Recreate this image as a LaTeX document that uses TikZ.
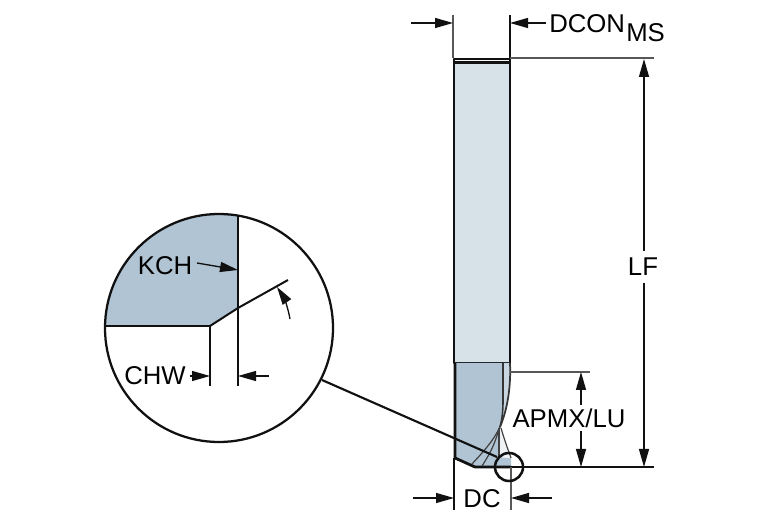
\documentclass[tikz,border=0pt]{standalone}
\usepackage{fontspec}
\setmainfont{Liberation Sans}
\usetikzlibrary{arrows.meta}
\definecolor{toolblue}{HTML}{B0C4D3}
\definecolor{shankblue}{HTML}{D6E2E8}
\definecolor{inkc}{HTML}{111111}
\tikzset{
  x=0.75pt,y=-0.75pt,
  lab/.style={font=\fontsize{19.3pt}{20pt}\selectfont,text=black,inner sep=0pt,anchor=center},
  dim/.style={draw=inkc,line width=1pt},
  ext/.style={draw=inkc!70,line width=1.1pt},
  arr/.style={dim,-{Triangle[length=13.5pt,width=7.5pt]}},
  outline/.style={draw=inkc,line width=2.1pt,line join=round},
  thin edge/.style={draw=inkc!80,line width=0.9pt},
}
\begin{document}
\begin{tikzpicture}
\useasboundingbox (0,0) rectangle (767,523);
% named points
\coordinate (bigC) at (219,328);
\coordinate (smallC) at (509,467);
\coordinate (leadA) at (322,380);
\coordinate (leadB) at (497,457);
% shank
\path[fill=shankblue] (454,59) rectangle (510,363);
\path[fill=white!70!shankblue] (454,59) rectangle (510,62);
\draw[draw=inkc,line width=1.6pt] (454,62.5) -- (510,62.5);
\draw[outline] (454,363) -- (454,59) -- (510,59) -- (510,363) -- cycle;
% flute
\path[fill=toolblue] (455,363) -- (503,363) -- (503,400) .. controls (503,412) and (502,420) .. (500,427) -- (499,457) -- (511,458) -- (511,467) -- (475,467) -- (455,458) -- cycle;
\path[fill=shankblue!40] (500,427) .. controls (505,442) and (509,452) .. (511,458) -- (499,457) -- cycle;
\path[fill=shankblue!60!toolblue] (503,363) -- (510,363) .. controls (511,385) and (508,408) .. (500,427) .. controls (502,420) and (503,412) .. (503,400) -- cycle;
\draw[outline] (455,363) -- (455,458) -- (475,467) -- (511,467);
\draw[draw=inkc!85,line width=1.2pt] (503,363) -- (503,400) .. controls (503,412) and (502,420) .. (500,427);
\draw[draw=inkc!85,line width=1.3pt] (510,363) .. controls (511,385) and (508,408) .. (500,427);
\draw[thin edge] (500,427) .. controls (492,443) and (482,453) .. (472,464);
\draw[thin edge] (499,428) .. controls (495,445) and (489,455) .. (482,466);
\draw[thin edge] (499,428) -- (499,457);
\draw[thin edge] (501,428) .. controls (505,442) and (509,452) .. (511,458);
% top dimension
\coordinate (e1t) at (453,15); \coordinate (e1b) at (453,58);
\coordinate (e2t) at (510,15); \coordinate (e2b) at (510,58);
\draw[ext] (e1t) -- (e1b);
\draw[dim] (e2t) -- (e2b);
\coordinate (a1s) at (411,23); \coordinate (a1e) at (453,23);
\coordinate (a2s) at (546,23); \coordinate (a2e) at (510,23);
\draw[arr] (a1s) -- (a1e);
\draw[arr] (a2s) -- (a2e);
\node[lab,anchor=base west] (dcon) at (549,33) {DCON};
\node[lab,anchor=base west] (ms) at (626,42) {MS};
% LF
\coordinate (t1) at (510,58); \coordinate (t2) at (654,58);
\coordinate (b1) at (475,467); \coordinate (b2) at (654,467);
\draw[ext,line width=1.5pt] (t1) -- (t2);
\draw[draw=inkc,line width=1.2pt] (b1) -- (b2);
\node[lab] (lf) at (643,267) {LF};
\coordinate (lft) at (644,59); \coordinate (lfb) at (644,467);
\draw[arr] (644,251) -- (lft);
\draw[arr] (644,283) -- (lfb);
% APMX
\coordinate (ap1) at (510,372); \coordinate (ap2) at (590,372);
\draw[ext,line width=1.5pt] (ap1) -- (ap2);
\node[lab] (apmx) at (569,418) {APMX/LU};
\coordinate (apt) at (581,372); \coordinate (apb) at (581,467);
\draw[arr] (581,405) -- (apt);
\draw[arr] (581,431) -- (apb);
% DC
\coordinate (d1t) at (454,458); \coordinate (d1b) at (454,510);
\coordinate (d2t) at (511,467); \coordinate (d2b) at (511,510);
\draw[dim] (d1t) -- (d1b);
\draw[ext] (d2t) -- (d2b);
\coordinate (dl) at (413,498); \coordinate (dle) at (454,498);
\coordinate (dr) at (552,498); \coordinate (dre) at (511,498);
\draw[arr] (dl) -- (dle);
\draw[arr] (dr) -- (dre);
\node[lab] (dc) at (482,499) {DC};
% leader & small circle
\draw[draw=inkc,line width=1.6pt] (leadA) -- (leadB);
\draw[draw=inkc,line width=1.9pt] (smallC) circle[radius=14];
% detail
\begin{scope}
\clip (bigC) circle[radius=114];
\path[fill=toolblue] (100,210) -- (238,210) -- (238,308) -- (210,326) -- (100,326) -- cycle;
\draw[draw=inkc,line width=2pt] (100,326) -- (210,326);
\draw[draw=inkc,line width=2pt] (238,210) -- (238,308);
\end{scope}
\draw[draw=inkc,line width=1.7pt] (bigC) circle[radius=114];
\coordinate (ch) at (210,326); \coordinate (ck) at (238,308); \coordinate (ang) at (288,280);
\draw[draw=inkc,line width=1.5pt] (ch) -- (ck) -- (ang);
\coordinate (v1) at (210,386); \coordinate (v2) at (238,386);
\draw[draw=inkc,line width=1.2pt] (ch) -- (v1);
\draw[draw=inkc,line width=1.2pt] (ck) -- (v2);
\node[lab] (kch) at (165,266) {KCH};
\node[lab] (chw) at (155,376) {CHW};
\coordinate (kchE) at (238,270);
\coordinate (kchS) at (197,263);
\draw[arr] (kchS) -- (kchE);
\coordinate (c1) at (190,376); \coordinate (c1e) at (210,376);
\coordinate (c2) at (269,376); \coordinate (c2e) at (238,376);
\draw[arr] (c1) -- (c1e);
\draw[arr] (c2) -- (c2e);
\coordinate (an1) at (290,319); \coordinate (an2) at (277,287);
\draw[arr] (an1) .. controls (288,307) and (283,296) .. (an2);
\end{tikzpicture}
\end{document}
